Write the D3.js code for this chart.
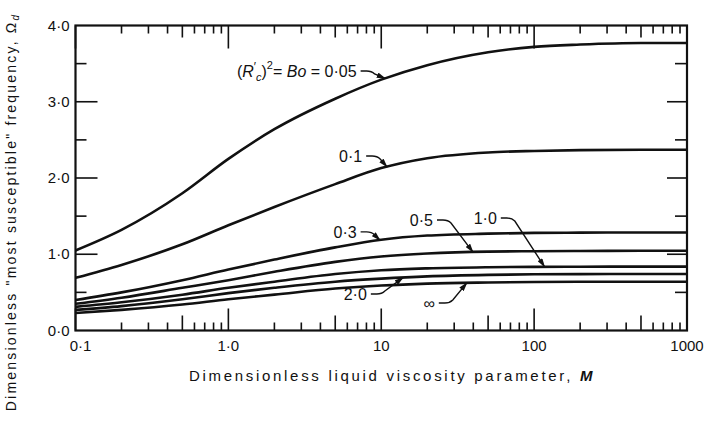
<!DOCTYPE html>
<meta charset="utf-8">
<script src="https://d3js.org/d3.v7.min.js"></script>
<style>
  body { margin: 0; background: #fff; }
  text { font-family: "Liberation Sans", Arial, sans-serif; fill: #111; }
</style>
<div id="chart"></div>
<script>
// ---- data ----
const mValues = [0.1, 0.2, 0.5, 1, 2, 5, 10, 20, 50, 100, 200, 500, 1000];
const bo005 = [1.05, 1.32, 1.80, 2.25, 2.64, 3.04, 3.29, 3.48, 3.65, 3.72, 3.75, 3.77, 3.77];
const bo01  = [0.69, 0.86, 1.13, 1.38, 1.62, 1.92, 2.13, 2.26, 2.335, 2.355, 2.365, 2.37, 2.37];
const bo03  = [0.40, 0.50, 0.66, 0.80, 0.93, 1.09, 1.19, 1.245, 1.27, 1.28, 1.283, 1.285, 1.285];
const bo05  = [0.35, 0.43, 0.56, 0.66, 0.77, 0.90, 0.97, 1.01, 1.035, 1.04, 1.043, 1.045, 1.045];
const bo10  = [0.31, 0.37, 0.47, 0.56, 0.64, 0.74, 0.79, 0.815, 0.83, 0.835, 0.837, 0.838, 0.838];
const bo20  = [0.27, 0.32, 0.41, 0.49, 0.56, 0.64, 0.68, 0.71, 0.73, 0.737, 0.74, 0.741, 0.741];
const boInf = [0.23, 0.27, 0.34, 0.41, 0.47, 0.55, 0.59, 0.615, 0.63, 0.637, 0.64, 0.64, 0.64];

const seriesLabels = ["0·05", "0·1", "0·3", "0·5", "1·0", "2·0", "∞"];
const seriesValues = [bo005, bo01, bo03, bo05, bo10, bo20, boInf];

const xTickValues = [0.1, 1, 10, 100, 1000];
const xTickLabels = ["0·1", "1·0", "10", "100", "1000"];
const yTickValues = [0, 1, 2, 3, 4];
const yTickLabels = ["0·0", "1·0", "2·0", "3·0", "4·0"];

// label position (M, value) and the M where its leader meets the curve
const labelM      = [6.9, 7.5, 6.9, 21.8, 57, 8.05, 22.4];
const labelValue  = [3.39, 2.275, 1.28, 1.436, 1.462, 0.466, 0.348];
const leaderM     = [10.6, 10.9, 9.8, 39.8, 117, 13.9, 36.3];

// ---- layout ----
const W = 712, H = 422;
const plot = { left: 75.5, right: 687, top: 25.5, bottom: 330.5 };

const svg = d3.select("#chart").append("svg")
    .attr("width", W).attr("height", H);

const x = d3.scaleLog().domain([0.1, 1000]).range([plot.left, plot.right]);
const y = d3.scaleLinear().domain([0, 4]).range([plot.bottom, plot.top]);

// frame
svg.append("rect")
    .attr("x", plot.left).attr("y", plot.top)
    .attr("width", plot.right - plot.left).attr("height", plot.bottom - plot.top)
    .attr("fill", "none").attr("stroke", "#111").attr("stroke-width", 2.2);

// tick labels
svg.selectAll(".xlab").data(xTickValues).join("text")
    .attr("class", "xlab")
    .attr("x", (d, i) => x(d) + (i === 0 ? 5 : 0))
    .attr("y", plot.bottom + 20)
    .attr("text-anchor", "middle")
    .attr("font-size", 15)
    .text((d, i) => xTickLabels[i]);

svg.selectAll(".ylab").data(yTickValues).join("text")
    .attr("class", "ylab")
    .attr("x", plot.left - 6)
    .attr("y", d => y(d) + 5)
    .attr("text-anchor", "end")
    .attr("font-size", 15)
    .text((d, i) => yTickLabels[i]);

// axis titles
const xt = svg.append("text")
    .attr("x", 392).attr("y", 381)
    .attr("text-anchor", "middle")
    .attr("font-size", 15)
    .attr("letter-spacing", 2.7);
xt.append("tspan").text("Dimensionless liquid viscosity parameter, ");
xt.append("tspan").attr("font-style", "italic").attr("font-weight", "bold").text("M");

const yt = svg.append("text")
    .attr("transform", "translate(16,212) rotate(-90)")
    .attr("text-anchor", "middle")
    .attr("font-size", 14)
    .attr("letter-spacing", 2.2);
yt.append("tspan").text("Dimensionless \"most susceptible\" frequency, Ω");
yt.append("tspan").attr("font-size", 10).attr("font-style", "italic").attr("dy", 3).text("d");

// curves
const curve = d3.line()
    .x((d, i) => x(mValues[i]))
    .y(d => y(d))
    .curve(d3.curveMonotoneX);

svg.append("g").selectAll("path").data(seriesValues).join("path")
    .attr("d", curve)
    .attr("fill", "none")
    .attr("stroke", "#111")
    .attr("stroke-width", 2.6)
    .attr("stroke-linejoin", "round");

// labels with leader lines
svg.append("defs").append("marker")
    .attr("id", "tip")
    .attr("viewBox", "0 0 10 6")
    .attr("refX", 9).attr("refY", 3)
    .attr("markerWidth", 7).attr("markerHeight", 4)
    .attr("orient", "auto")
    .append("path").attr("d", "M0,0L10,3L0,6Z").attr("fill", "#111");

function valueAt(vals, m) {
  const lm = Math.log10(m);
  for (let i = 0; i < mValues.length - 1; i++) {
    const a = Math.log10(mValues[i]), b = Math.log10(mValues[i + 1]);
    if (lm >= a && lm <= b) return vals[i] + (vals[i + 1] - vals[i]) * (lm - a) / (b - a);
  }
  return vals[vals.length - 1];
}

seriesLabels.forEach((lab, i) => {
  const tx = x(labelM[i]), ty = y(labelValue[i]);
  const t = svg.append("text")
      .attr("x", tx).attr("y", ty + 5)
      .attr("text-anchor", "end")
      .attr("font-size", 16);
  if (i === 0) {
    t.append("tspan").text("(");
    t.append("tspan").attr("font-style", "italic").text("R");
    t.append("tspan").attr("font-size", 12).attr("dy", -6).text("′");
    t.append("tspan").attr("font-size", 11).attr("font-style", "italic").attr("dy", 10).text("c");
    t.append("tspan").attr("dy", -4).text(")");
    t.append("tspan").attr("font-size", 11).attr("dy", -8).text("2");
    t.append("tspan").attr("dy", 8).text("= ");
    t.append("tspan").attr("font-style", "italic").text("Bo");
    t.append("tspan").text(" = " + lab);
  } else {
    t.text(lab);
  }
  const ex = x(leaderM[i]), ey = y(valueAt(seriesValues[i], leaderM[i]));
  const sx = tx + 4, sy = ty - 1;
  const dir = ey > sy ? 1 : -1;
  svg.append("path")
      .attr("d", `M${sx},${sy} L${sx + 6},${sy} Q${sx + 11},${sy} ${sx + 14},${sy + dir * 3} L${ex},${ey}`)
      .attr("fill", "none")
      .attr("stroke", "#111")
      .attr("stroke-width", 1.4)
      .attr("marker-end", "url(#tip)");
});

// ---- inward tick marks as thin filled rects ----
const decades = [0.1, 1, 10, 100, 1000];
const fives = [0.5, 5, 50, 500];
const others = [];
decades.slice(0, 4).forEach(d => [2, 3, 4, 6, 7, 8, 9].forEach(k => others.push(d * k)));

const tw = 1.6;
const tickRects = [];
[[decades, 22, 23], [fives, 15, 12], [others, 8, 8]].forEach(([vals, lenB, lenT]) => {
  vals.forEach(v => {
    tickRects.push({ x: x(v) - tw / 2, y: plot.bottom - lenB, w: tw, h: lenB });
    tickRects.push({ x: x(v) - tw / 2, y: plot.top, w: tw, h: lenT });
  });
});
[[[1, 2, 3], 22, 20], [[0.5, 1.5, 2.5, 3.5], 11, 12]].forEach(([vals, lenL, lenR]) => {
  vals.forEach(v => {
    tickRects.push({ x: plot.left, y: y(v) - tw / 2, w: lenL, h: tw });
    tickRects.push({ x: plot.right - lenR, y: y(v) - tw / 2, w: lenR, h: tw });
  });
});

svg.append("g").attr("class", "tickmarks").selectAll("rect").data(tickRects).join("rect")
    .attr("x", d => d.x)
    .attr("y", d => d.y)
    .attr("width", d => d.w)
    .attr("height", d => d.h)
    .attr("fill", "#111");
</script>
